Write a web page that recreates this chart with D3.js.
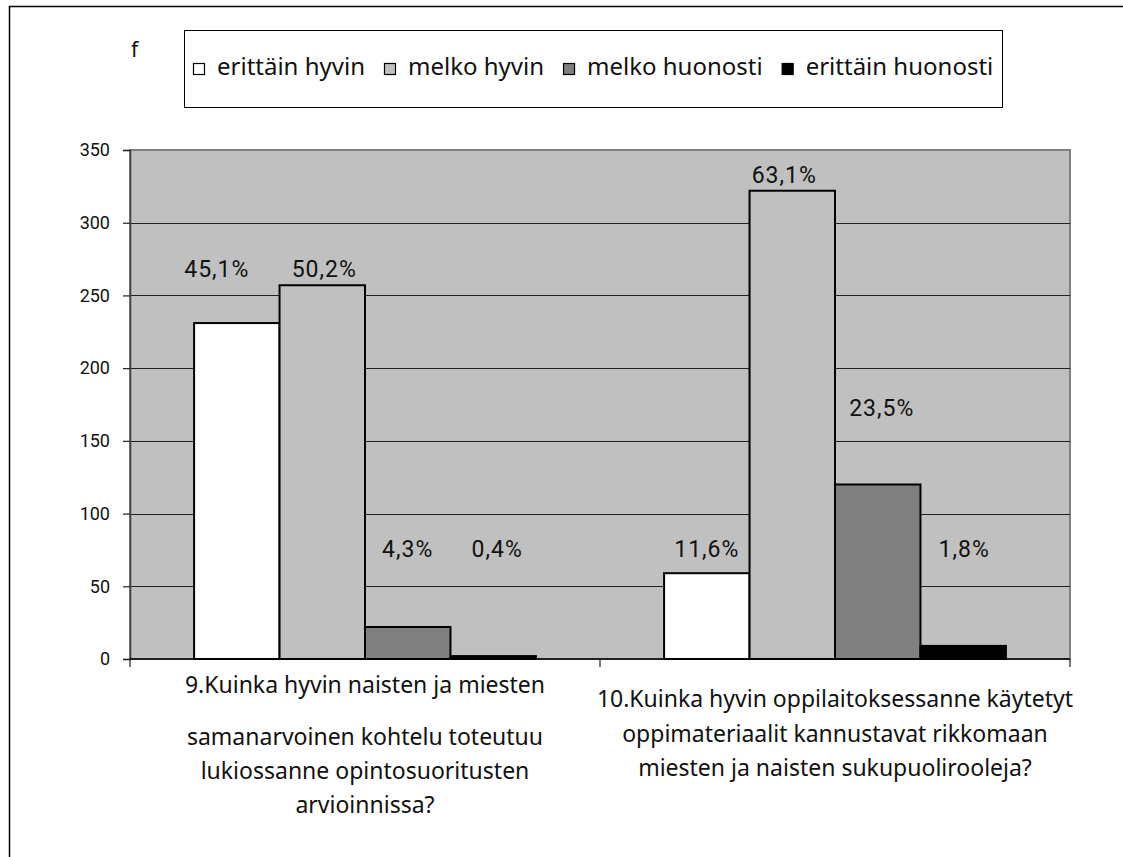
<!DOCTYPE html>
<html>
<head>
	<meta charset="utf-8">
	<script src="https://d3js.org/d3.v7.min.js"></script>
	<style>
		body { margin: 0; background: #fff; }
	</style>
</head>
<body>
<svg id="container"></svg>
</body>
<script>
// data
let categories = ['q9', 'q10'];
let categoryLines = [
	['9.Kuinka hyvin naisten ja miesten', 'samanarvoinen kohtelu toteutuu', 'lukiossanne opintosuoritusten', 'arvioinnissa?'],
	['10.Kuinka hyvin oppilaitoksessanne käytetyt', 'oppimateriaalit kannustavat rikkomaan', 'miesten ja naisten sukupuolirooleja?']
];
let seriesNames = ['erittäin hyvin', 'melko hyvin', 'melko huonosti', 'erittäin huonosti'];
let seriesColors = ['#ffffff', '#c0c0c0', '#808080', '#000000'];
let valuesQ9 = [231, 257, 22, 2];
let valuesQ10 = [59, 322, 120, 9];
let percentQ9 = ['45,1%', '50,2%', '4,3%', '0,4%'];
let percentQ10 = ['11,6%', '63,1%', '23,5%', '1,8%'];
let yTicks = [0, 50, 100, 150, 200, 250, 300, 350];
</script>

<script>
// layout
let W = 1123, H = 857;
let plot = {left: 130, right: 1070, top: 150, bottom: 659};
// where the percent labels sit (value units), they were placed by hand in the original
let labelLevel = [[263, 263, 70, 70], [70, 327, 167, 70]];
let labelDx = [[-20, 2, 0, 4], [0, -8, 4, 1]];
// baselines of the category label lines, below the axis
let catLineDy = [[34, 86, 120, 154], [48, 83, 117]];

let svg = d3.select('#container')
	.attr('width', W)
	.attr('height', H);

svg.append('rect')
	.attr('width', W).attr('height', H)
	.attr('fill', '#fff');

// outer frame
svg.append('rect')
	.attr('x', 9.5).attr('y', 6.5)
	.attr('width', 1125).attr('height', 870)
	.attr('fill', 'none')
	.attr('stroke', '#000')
	.attr('stroke-width', 1.5);

let x0 = d3.scaleBand()
	.domain(categories)
	.range([plot.left, plot.right]);

let x1 = d3.scaleBand()
	.domain(seriesNames)
	.range([0, x0.bandwidth()])
	.paddingOuter(0.75);

let y = d3.scaleLinear()
	.domain([0, 350])
	.range([plot.bottom, plot.top]);

// plot area
svg.append('rect')
	.attr('x', plot.left).attr('y', plot.top)
	.attr('width', plot.right - plot.left)
	.attr('height', plot.bottom - plot.top)
	.attr('fill', '#c0c0c0')
	.attr('stroke', '#808080')
	.attr('stroke-width', 2);

// gridlines
svg.append('g')
	.selectAll('line')
	.data(yTicks.filter(t => t > 0 && t < 350))
	.join('line')
	.attr('x1', plot.left).attr('x2', plot.right)
	.attr('y1', d => Math.round(y(d)) + 0.5)
	.attr('y2', d => Math.round(y(d)) + 0.5)
	.attr('stroke', '#202020')
	.attr('stroke-width', 1.2);

// y axis
let yAxis = svg.append('g')
	.attr('transform', `translate(${plot.left},0)`)
	.call(d3.axisLeft(y).tickValues(yTicks).tickSize(7).tickPadding(13).tickFormat(d3.format('d')));
yAxis.select('.domain').attr('stroke', '#404040').attr('stroke-width', 1.5);
yAxis.selectAll('.tick line').attr('stroke', '#202020').attr('stroke-width', 1.2);
yAxis.selectAll('.tick text')
	.attr('font-family', 'Roboto, sans-serif')
	.attr('font-size', 18)
	.attr('fill', '#111');

// bars
let allValues = [valuesQ9, valuesQ10];
let allPercent = [percentQ9, percentQ10];

let groups = svg.append('g')
	.selectAll('g')
	.data(categories)
	.join('g')
	.attr('transform', d => `translate(${x0(d)},0)`);

groups.selectAll('rect')
	.data((d, i) => seriesNames.map((s, j) => ({s, j, v: allValues[i][j]})))
	.join('rect')
	.attr('x', d => x1(d.s))
	.attr('y', d => y(d.v))
	.attr('width', x1.bandwidth())
	.attr('height', d => y(0) - y(d.v))
	.attr('fill', d => seriesColors[d.j])
	.attr('stroke', '#000')
	.attr('stroke-width', 2);

groups.selectAll('text.pct')
	.data((d, i) => seriesNames.map((s, j) => ({s, j, i, t: allPercent[i][j]})))
	.join('text')
	.attr('class', 'pct')
	.attr('x', d => x1(d.s) + x1.bandwidth() / 2 + labelDx[d.i][d.j])
	.attr('y', d => y(labelLevel[d.i][d.j]))
	.attr('text-anchor', 'middle')
	.attr('font-family', 'Roboto, sans-serif')
	.attr('font-size', 23)
	.attr('letter-spacing', 1)
	.attr('fill', '#111')
	.text(d => d.t);

// x axis
svg.append('line')
	.attr('x1', plot.left).attr('x2', plot.right)
	.attr('y1', plot.bottom).attr('y2', plot.bottom)
	.attr('stroke', '#000').attr('stroke-width', 1.5);

svg.append('g')
	.selectAll('line')
	.data([plot.left, x0(categories[1]), plot.right])
	.join('line')
	.attr('x1', d => d).attr('x2', d => d)
	.attr('y1', plot.bottom).attr('y2', plot.bottom + 8)
	.attr('stroke', '#202020').attr('stroke-width', 1.2);

// category labels
categories.forEach((c, i) => {
	svg.append('g')
		.selectAll('text')
		.data(categoryLines[i])
		.join('text')
		.attr('x', x0(c) + x0.bandwidth() / 2)
		.attr('y', (d, k) => plot.bottom + catLineDy[i][k])
		.attr('text-anchor', 'middle')
		.attr('font-family', '"Noto Sans", sans-serif')
		.attr('font-size', 23)
		.attr('fill', '#111')
		.text(d => d);
});

// "f" axis title
svg.append('text')
	.attr('x', 131).attr('y', 57)
	.attr('font-family', '"Noto Sans", sans-serif')
	.attr('font-size', 21)
	.attr('fill', '#111')
	.text('f');

// legend
svg.append('rect')
	.attr('x', 184.5).attr('y', 30.5)
	.attr('width', 818).attr('height', 77)
	.attr('fill', '#fff')
	.attr('stroke', '#000')
	.attr('stroke-width', 1);

let lx = 193;
seriesNames.forEach((s, j) => {
	svg.append('rect')
		.attr('x', lx + 0.5).attr('y', 63.5)
		.attr('width', 11).attr('height', 11)
		.attr('fill', seriesColors[j])
		.attr('stroke', '#000')
		.attr('stroke-width', 1.2);
	let t = svg.append('text')
		.attr('x', lx + 24).attr('y', 75)
		.attr('font-family', '"Noto Sans", sans-serif')
		.attr('font-size', 24)
		.attr('fill', '#111')
		.text(s);
	lx += 24 + t.node().getComputedTextLength() + 19;
});
</script>
</html>
